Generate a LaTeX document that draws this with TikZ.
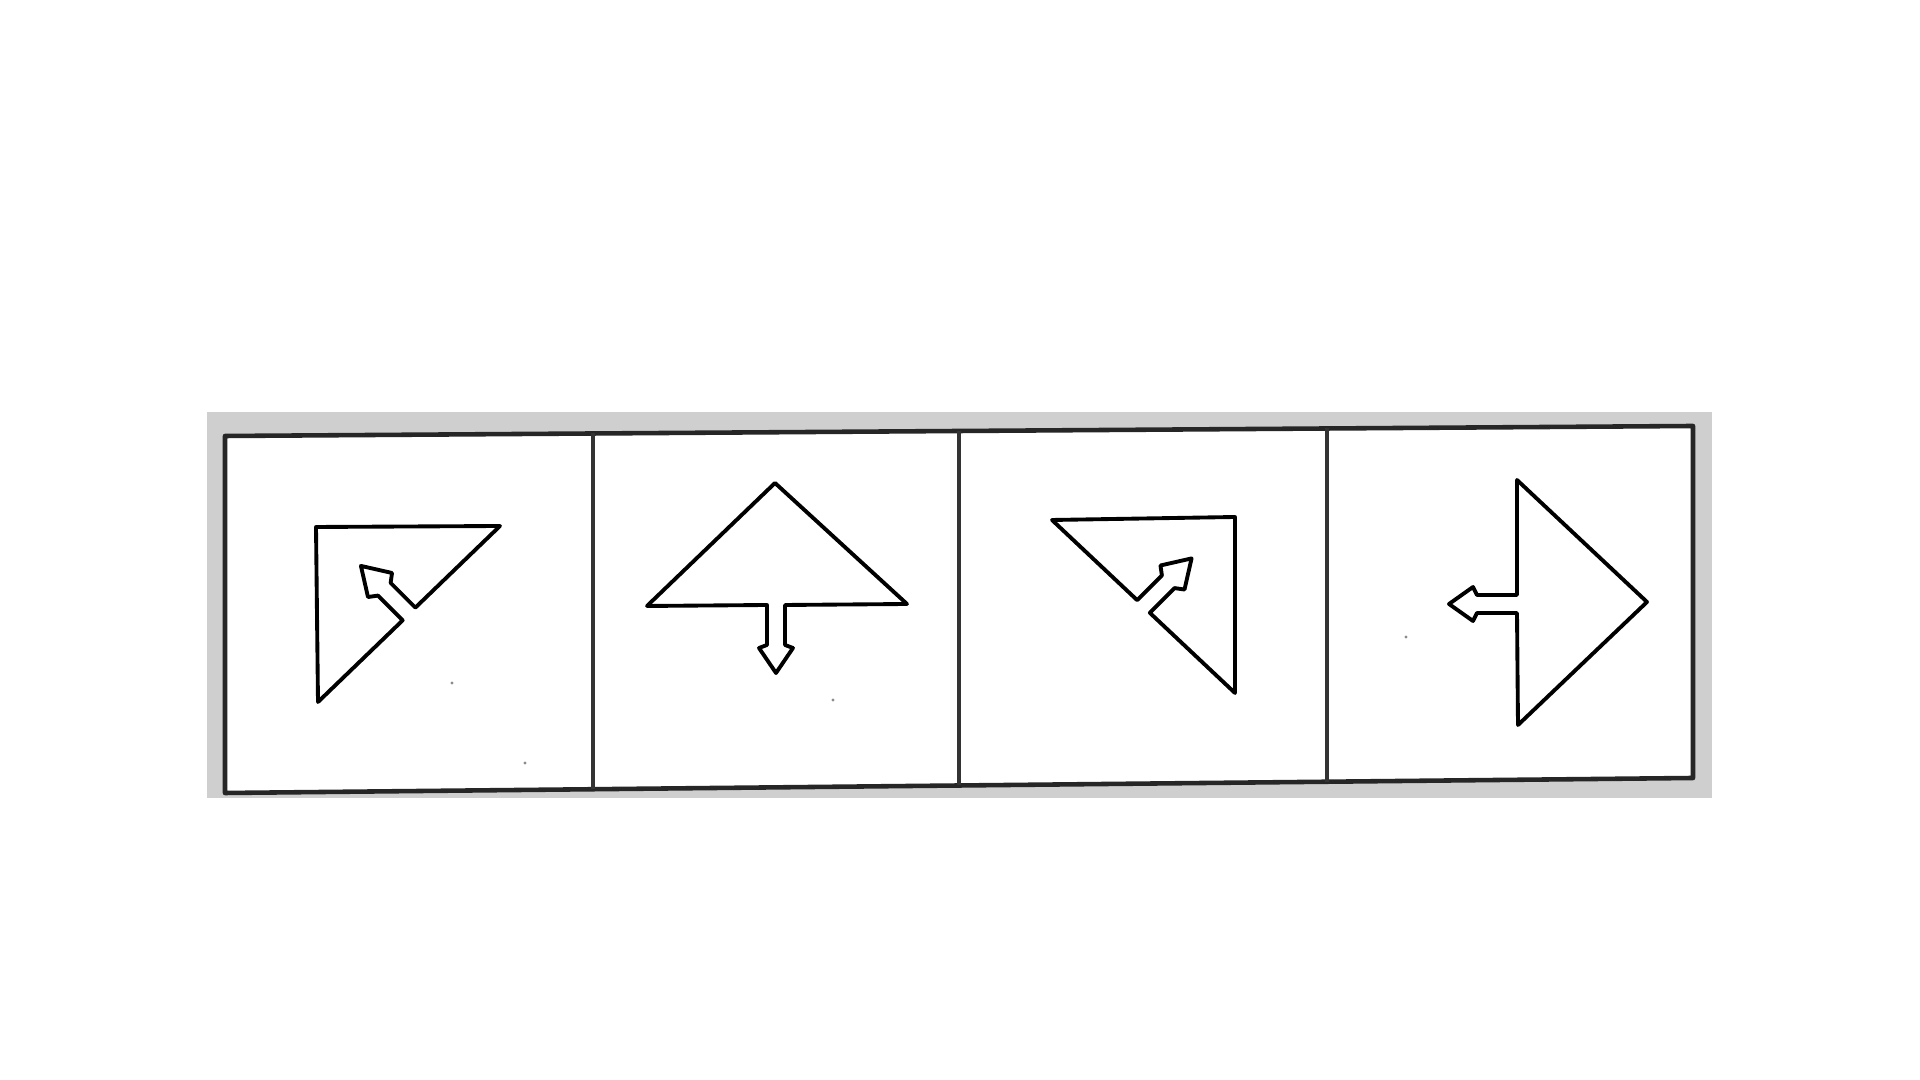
\documentclass[tikz,border=0pt]{standalone}
\usetikzlibrary{calc}
\tikzset{
  band/.style={fill=black!19, draw=none},
  frame/.style={draw=black!85, line width=1.3pt, fill=white, line join=round},
  divider/.style={draw=black!80, line width=1pt},
  figshape/.style={draw=black, line width=1.1pt, line join=round, fill=white},
  speck/.style={fill=black!45, draw=none}
}
% #1 prefix, #2 base point, #3 direction, #4 shaft length, #5 barb position
\newcommand\arrowpts[5]{%
  \begin{scope}[shift={(#2)}, rotate=#3]
    \coordinate (#1p1) at (0,9);
    \coordinate (#1p2) at (#4,9);
    \coordinate (#1p3) at (#5,17);
    \coordinate (#1p4) at (68,0);
    \coordinate (#1p5) at (#5,-17);
    \coordinate (#1p6) at (#4,-9);
    \coordinate (#1p7) at (0,-9);
  \end{scope}}
\begin{document}
\begin{tikzpicture}[x=0.01cm,y=-0.01cm]
\useasboundingbox (0,0) rectangle (1920,1080);
\fill[white] (0,0) rectangle (1920,1080);
% noisy grey border band
\path[band] (207,412) rectangle (1712,798);
% outer frame (slightly tilted)
\coordinate (fTL) at (225,436);
\coordinate (fTR) at (1693,426);
\coordinate (fBR) at (1693,778);
\coordinate (fBL) at (225,793);
\draw[frame] (fTL) -- (fTR) -- (fBR) -- (fBL) -- cycle;
\foreach \t/\n in {0.2507/a,0.5/b,0.7507/c}{
  \coordinate (dt\n) at ($(fTL)!\t!(fTR)$);
  \coordinate (db\n) at ($(fBL)!\t!(fBR)$);
  \draw[divider] (dt\n) -- (db\n);
}
% panel 1
\coordinate (aTL) at (316,527);
\coordinate (aTR) at (500,526);
\coordinate (aBL) at (318,702);
\coordinate (aM) at ($(aTR)!0.5!(aBL)$);
\arrowpts{a}{aM}{135}{35}{41}
\draw[figshape] (aTR) -- (ap1) -- (ap2) -- (ap3) -- (ap4) -- (ap5) -- (ap6) -- (ap7) -- (aBL) -- (aTL) -- cycle;
% panel 2
\coordinate (bA) at (775,483);
\coordinate (bL) at (647,606);
\coordinate (bR) at (907,604);
\coordinate (bM) at (776,605);
\arrowpts{b}{bM}{-90}{40}{43}
\draw[figshape] (bA) -- (bL) -- (bp1) -- (bp2) -- (bp3) -- (bp4) -- (bp5) -- (bp6) -- (bp7) -- (bR) -- cycle;
% panel 3
\coordinate (cTL) at (1052,520);
\coordinate (cTR) at (1235,517);
\coordinate (cBR) at (1235,693);
\coordinate (cM) at ($(cTL)!0.5!(cBR)$);
\arrowpts{c}{cM}{45}{35}{41}
\draw[figshape] (cTR) -- (cTL) -- (cp7) -- (cp6) -- (cp5) -- (cp4) -- (cp3) -- (cp2) -- (cp1) -- (cBR) -- cycle;
% panel 4
\coordinate (dT) at (1517,480);
\coordinate (dB) at (1518,725);
\coordinate (dR) at (1647,602);
\coordinate (dM) at (1517,604);
\arrowpts{d}{dM}{180}{40}{44}
\draw[figshape] (dR) -- (dT) -- (dp1) -- (dp2) -- (dp3) -- (dp4) -- (dp5) -- (dp6) -- (dp7) -- (dB) -- cycle;
% print specks
\fill[speck] (452,683) circle (1.6);
\fill[speck] (525,763) circle (1.6);
\fill[speck] (833,700) circle (1.6);
\fill[speck] (1406,637) circle (1.6);
\end{tikzpicture}
\end{document}
